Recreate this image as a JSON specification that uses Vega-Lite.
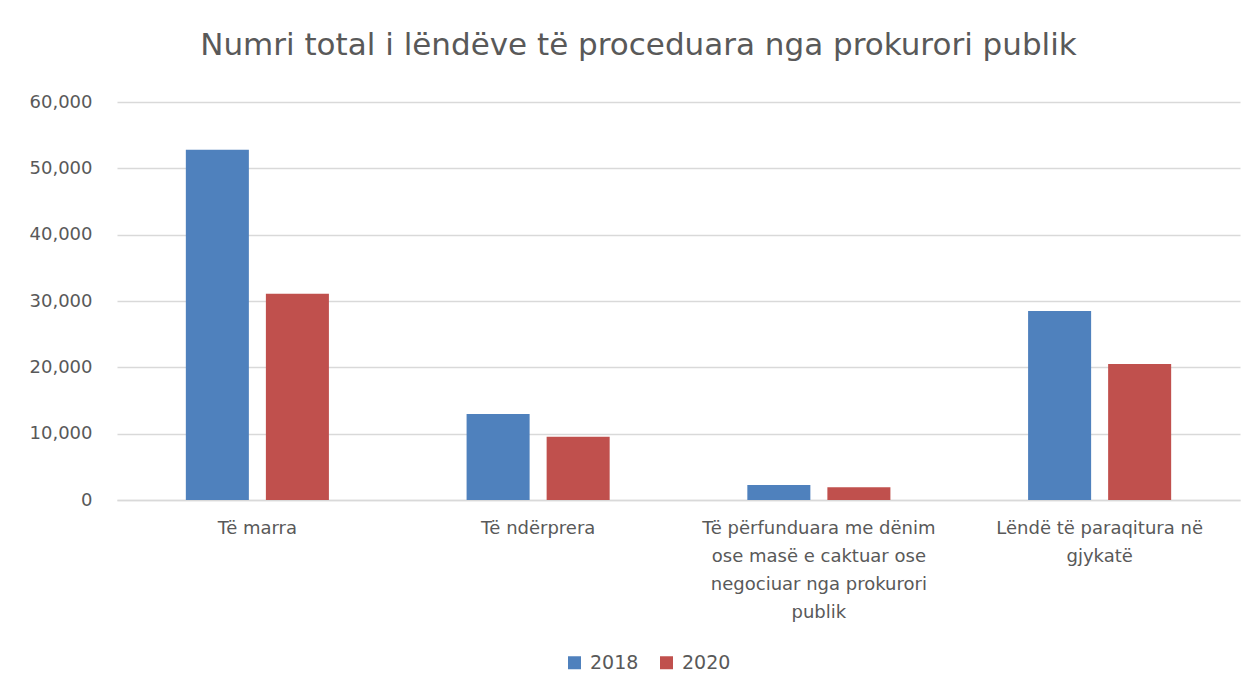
{
  "$schema": "https://vega.github.io/schema/vega-lite/v6.json",
  "width": 1123,
  "height": 398,
  "autosize": {"type": "none"},
  "padding": {"left": 117, "top": 102, "right": 20, "bottom": 198},
  "background": "white",
  "title": {
    "text": "Numri total i lëndëve të proceduara nga prokurori publik",
    "font": "DejaVu Sans",
    "fontSize": 31,
    "fontWeight": "normal",
    "color": "#595959",
    "frame": "group",
    "anchor": "middle",
    "baseline": "alphabetic",
    "offset": 7,
    "dx": -40
  },
  "data": {
    "values": [
      {"kategoria": "Të marra", "viti": "2018", "vlera": 52800},
      {"kategoria": "Të marra", "viti": "2020", "vlera": 31100},
      {"kategoria": "Të ndërprera", "viti": "2018", "vlera": 12950},
      {"kategoria": "Të ndërprera", "viti": "2020", "vlera": 9550},
      {"kategoria": "Të përfunduara me dënim ose masë e caktuar ose negociuar nga prokurori publik", "viti": "2018", "vlera": 2260},
      {"kategoria": "Të përfunduara me dënim ose masë e caktuar ose negociuar nga prokurori publik", "viti": "2020", "vlera": 1920},
      {"kategoria": "Lëndë të paraqitura në gjykatë", "viti": "2018", "vlera": 28500},
      {"kategoria": "Lëndë të paraqitura në gjykatë", "viti": "2020", "vlera": 20500}
    ]
  },
  "mark": {"type": "bar"},
  "encoding": {
    "x": {
      "field": "kategoria",
      "type": "nominal",
      "sort": null,
      "scale": {"paddingInner": 0, "paddingOuter": 0},
      "axis": {
        "title": null,
        "labelAngle": 0,
        "labelFont": "DejaVu Sans",
        "labelFontSize": 18,
        "labelColor": "#595959",
        "labelBaseline": "top",
        "labelPadding": 19,
        "labelLineHeight": 28,
        "labelLimit": 400,
        "ticks": false,
        "domain": true,
        "domainColor": "#d9d9d9",
        "domainWidth": 1.5,
        "labelExpr": "datum.value == 'Të përfunduara me dënim ose masë e caktuar ose negociuar nga prokurori publik' ? ['Të përfunduara me dënim', 'ose masë e caktuar ose', 'negociuar nga prokurori', 'publik'] : datum.value == 'Lëndë të paraqitura në gjykatë' ? ['Lëndë të paraqitura në', 'gjykatë'] : datum.value"
      }
    },
    "xOffset": {
      "field": "viti",
      "type": "nominal",
      "scale": {"paddingInner": 0.2125, "paddingOuter": 0.86}
    },
    "y": {
      "field": "vlera",
      "type": "quantitative",
      "scale": {"domain": [0, 60000], "nice": false},
      "axis": {
        "title": null,
        "values": [0, 10000, 20000, 30000, 40000, 50000, 60000],
        "format": ",d",
        "grid": true,
        "gridColor": "#d9d9d9",
        "gridWidth": 1.5,
        "domain": false,
        "ticks": false,
        "labelPadding": 25,
        "labelFont": "DejaVu Sans",
        "labelFontSize": 18,
        "labelColor": "#595959"
      }
    },
    "color": {
      "field": "viti",
      "type": "nominal",
      "scale": {"domain": ["2018", "2020"], "range": ["#4f81bd", "#c0504d"]},
      "legend": {
        "title": null,
        "orient": "none",
        "direction": "horizontal",
        "legendX": 448,
        "legendY": 551,
        "symbolType": "square",
        "symbolSize": 169,
        "symbolStrokeWidth": 0,
        "labelFont": "DejaVu Sans",
        "labelFontSize": 19,
        "labelColor": "#595959",
        "labelOffset": 6,
        "columnPadding": 18
      }
    }
  },
  "config": {"view": {"stroke": null}}
}
